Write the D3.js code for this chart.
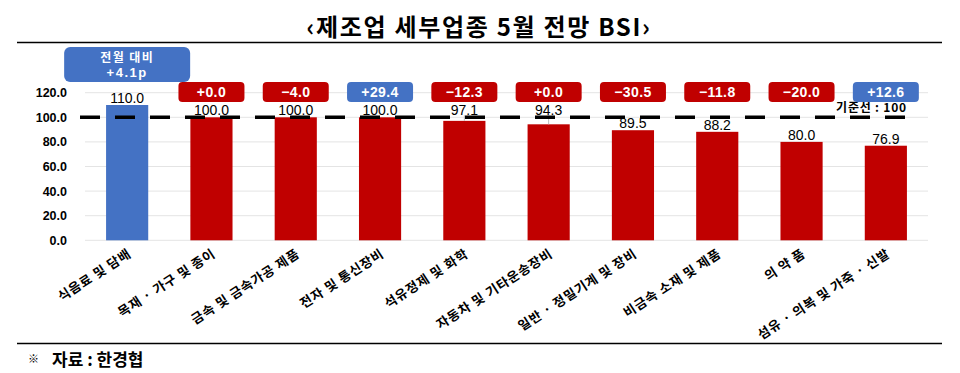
<!DOCTYPE html>
<html>
<meta charset="utf-8">
<head>
  <script src="https://d3js.org/d3.v7.min.js"></script>
  <style>
    body { margin: 0; background: #fff; }
    text { font-family: "Liberation Sans", "Noto Sans CJK KR", sans-serif; }
    .kr { font-family: "Noto Sans CJK KR", sans-serif; }
  </style>
</head>
<body>
<div id="chart"></div>
<script>
  "use strict"

  // 업종, 5월 전망 BSI, 전월 대비 증감
  var categories = ["식음료 및 담배", "목재 · 가구 및 종이", "금속 및 금속가공 제품", "전자 및 통신장비",
                    "석유정제 및 화학", "자동차 및 기타운송장비", "일반 · 정밀기계 및 장비",
                    "비금속 소재 및 제품", "의 약 품", "섬유 · 의복 및 가죽 · 신발"];
  var values = [110.0, 100.0, 100.0, 100.0, 97.1, 94.3, 89.5, 88.2, 80.0, 76.9];
  var changes = [4.1, 0.0, -4.0, 29.4, -12.3, 0.0, -30.5, -11.8, -20.0, 12.6];
  var yTicks = [0, 20, 40, 60, 80, 100, 120];
  var baseLine = 100;

  var width = 960, height = 373;
  var blue = "#4472C4", red = "#C00000";

  var svg = d3.select("#chart").append("svg")
      .attr("width", width)
      .attr("height", height);

  var x = d3.scaleBand()
      .domain(categories)
      .range([85, 928])
      .paddingInner(0.5)
      .paddingOuter(0.25);

  var y = d3.scaleLinear()
      .domain([0, 120])
      .range([240.3, 92.7]);

  function cx(i) { return x(categories[i]) + x.bandwidth() / 2; }

  // title + rules
  svg.append("text")
      .attr("class", "kr")
      .attr("x", 479).attr("y", 36)
      .attr("text-anchor", "middle")
      .attr("font-size", 24)
      .attr("font-weight", "bold")
      .attr("letter-spacing", 1.7)
      .text("‹제조업 세부업종 5월 전망 BSI›");

  svg.append("line").attr("x1", 17).attr("x2", 942).attr("y1", 42.5).attr("y2", 42.5)
      .attr("stroke", "#000").attr("stroke-width", 1.5);
  svg.append("line").attr("x1", 17).attr("x2", 942).attr("y1", 343.5).attr("y2", 343.5)
      .attr("stroke", "#000").attr("stroke-width", 1.5);

  // gridlines
  svg.append("g")
    .selectAll("line")
    .data(yTicks)
    .enter().append("line")
      .attr("x1", 85).attr("x2", 928)
      .attr("y1", function(d) { return y(d); })
      .attr("y2", function(d) { return y(d); })
      .attr("stroke", "#e4e4e4")
      .attr("stroke-width", 1);

  // y axis labels
  var yAxis = d3.axisLeft(y).tickValues(yTicks).tickSize(0).tickPadding(0)
      .tickFormat(d3.format(".1f"));
  var gy = svg.append("g").attr("transform", "translate(67,0)").call(yAxis);
  gy.select(".domain").remove();
  gy.selectAll("text")
      .attr("font-family", "Liberation Sans, sans-serif")
      .attr("font-size", 12.5)
      .attr("font-weight", "bold")
      .attr("fill", "#000");

  // bars
  svg.append("g")
    .selectAll("rect")
    .data(values)
    .enter().append("rect")
      .attr("x", function(d, i) { return x(categories[i]); })
      .attr("y", function(d) { return y(d); })
      .attr("width", x.bandwidth())
      .attr("height", function(d) { return y(0) - y(d); })
      .attr("fill", function(d, i) { return i === 0 ? blue : red; });

  // labels just under the reference line are lifted above it, with a leader
  function lifted(d) { return d < baseLine && y(d) - y(baseLine) < 10; }

  svg.append("g")
    .selectAll("line")
    .data(values)
    .enter().filter(lifted).append("line")
      .attr("x1", function(d) { return cx(values.indexOf(d)); })
      .attr("x2", function(d) { return cx(values.indexOf(d)); })
      .attr("y1", y(baseLine) - 2)
      .attr("y2", function(d) { return y(d); })
      .attr("stroke", "#bbb")
      .attr("stroke-width", 1);

  // dashed reference line
  svg.append("line")
      .attr("x1", 80).attr("x2", 912)
      .attr("y1", y(baseLine)).attr("y2", y(baseLine))
      .attr("stroke", "#000")
      .attr("stroke-width", 3.5)
      .attr("stroke-dasharray", "20,15");

  svg.append("text")
      .attr("class", "kr")
      .attr("x", 907).attr("y", y(baseLine) - 5)
      .attr("text-anchor", "end")
      .attr("font-size", 12)
      .attr("font-weight", "bold")
      .attr("letter-spacing", 0.8)
      .text("기준선 : 100");

  // value labels
  svg.append("g")
    .selectAll("text")
    .data(values)
    .enter().append("text")
      .attr("x", function(d, i) { return cx(i); })
      .attr("y", function(d) { return lifted(d) ? y(baseLine) - 2.5 : y(d) - 2; })
      .attr("text-anchor", "middle")
      .attr("font-size", 14)
      .text(function(d) { return d.toFixed(1); });

  // change boxes
  function fmt(d) { return (d < 0 ? "\u2212" : "+") + Math.abs(d).toFixed(1); }

  var boxes = svg.append("g")
    .selectAll("g")
    .data(changes.slice(1))
    .enter().append("g")
      .attr("transform", function(d, i) { return "translate(" + cx(i + 1) + ",92)"; });
  boxes.append("rect")
      .attr("x", -33).attr("y", -10)
      .attr("width", 66).attr("height", 20)
      .attr("rx", 4)
      .attr("fill", function(d) { return d > 0 ? blue : red; });
  boxes.append("text")
      .attr("y", 5)
      .attr("text-anchor", "middle")
      .attr("font-size", 14)
      .attr("font-weight", "bold")
      .attr("letter-spacing", 0.4)
      .attr("fill", "#fff")
      .text(fmt);

  // first category: 전월 대비 box
  var first = svg.append("g")
      .attr("transform", "translate(" + cx(0) + ",64.5)");
  first.append("rect")
      .attr("x", -63).attr("y", -17.5)
      .attr("width", 126).attr("height", 35)
      .attr("rx", 6)
      .attr("fill", blue);
  first.append("text")
      .attr("class", "kr")
      .attr("y", -3)
      .attr("text-anchor", "middle")
      .attr("font-size", 12)
      .attr("font-weight", "bold")
      .attr("letter-spacing", 1.4)
      .attr("fill", "#fff")
      .text("전월 대비");
  first.append("text")
      .attr("y", 12.5)
      .attr("text-anchor", "middle")
      .attr("font-size", 13)
      .attr("font-weight", "bold")
      .attr("letter-spacing", 1.5)
      .attr("fill", "#fff")
      .text(fmt(changes[0]) + "p");

  // rotated category labels
  svg.append("g")
    .selectAll("text")
    .data(categories)
    .enter().append("text")
      .attr("class", "kr")
      .attr("text-anchor", "end")
      .attr("font-size", 13)
      .attr("font-weight", "bold")
      .attr("letter-spacing", 0.8)
      .attr("transform", function(d, i) {
        return "translate(" + (cx(i) + 5) + ",256) rotate(-33)";
      })
      .text(function(d) { return d; });

  // source
  svg.append("text")
      .attr("class", "kr")
      .attr("x", 28).attr("y", 363)
      .attr("font-size", 11)
      .text("※");
  svg.append("text")
      .attr("class", "kr")
      .attr("x", 52).attr("y", 366)
      .attr("font-size", 17)
      .attr("font-weight", "bold")
      .text("자료 : 한경협");
</script>
</body>
</html>
